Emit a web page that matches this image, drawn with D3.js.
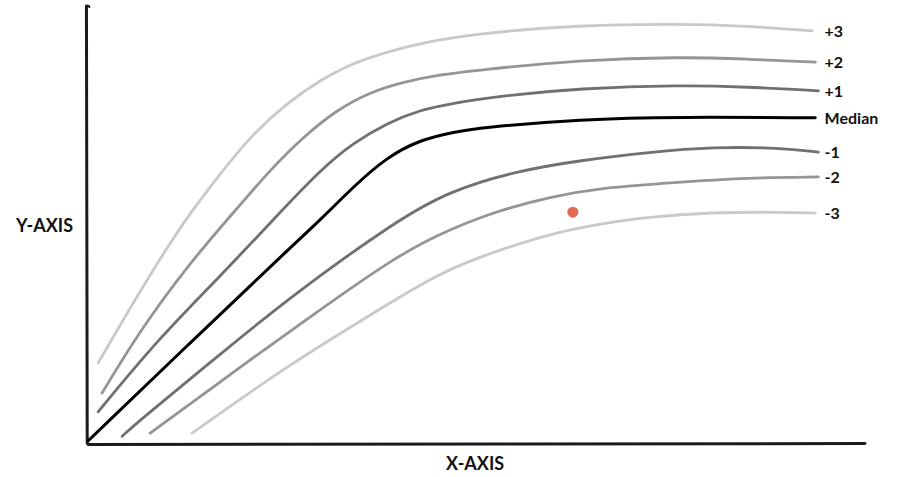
<!DOCTYPE html>
<html>
<head>
<meta charset="utf-8">
<script src="https://cdn.jsdelivr.net/npm/d3@7"></script>
<style>
  html, body { margin: 0; padding: 0; background: #fff; }
  svg { display: block; }
  text { font-family: Lato, "Open Sans", sans-serif; font-weight: 700; fill: #111; }
</style>
</head>
<body>
<svg id="chart" width="901" height="477"></svg>
<script>
// ---- data (x: 0..100 of x-axis, y: 0..100 of y-axis) ----
const seriesNames = ["+3", "+2", "+1", "Median", "-1", "-2", "-3"];
const seriesColors = ["#c9c9c9", "#959595", "#707070", "#000000", "#707070", "#959595", "#c9c9c9"];

const plus3 = [[1.3,17.9],[4.5,27.8],[8.9,40.9],[13.1,52.4],[17.0,61.4],[21.2,70.6],[25.6,77.7],[29.9,83.0],[34.1,86.9],[38.5,89.4],[42.7,91.5],[50.5,93.8],[63.3,95.6],[76.2,95.9],[84.8,95.4],[93.2,94.3]];
const plus2 = [[1.8,11.0],[6.7,25.5],[13.1,40.9],[17.9,50.8],[23.4,62.3],[27.7,69.9],[32.0,76.1],[36.3,80.2],[40.5,82.5],[44.9,84.1],[50.4,85.3],[63.3,87.6],[76.2,88.3],[84.8,87.8],[93.6,87.1]];
const plus1 = [[1.3,6.7],[8.9,23.2],[17.4,38.6],[23.8,50.8],[29.9,62.3],[34.1,68.5],[38.5,73.1],[42.7,76.1],[47.0,77.7],[53.0,79.3],[63.3,81.1],[76.2,81.8],[84.8,81.4],[94.0,80.5]];
const median = [[0,0],[13.1,22.5],[26.0,44.4],[29.9,50.8],[34.1,58.4],[38.5,65.3],[42.7,69.2],[47.0,71.0],[50.5,72.0],[63.3,74.0],[76.2,74.5],[93.6,74.3]];
const minus1 = [[4.4,1.1],[6.7,4.8],[17.4,20.5],[26.0,33.1],[39.8,50.8],[46.6,57.5],[55.2,62.1],[63.7,64.6],[72.3,66.4],[80.4,67.6],[89.1,67.4],[94.0,66.4]];
const minus2 = [[8.0,1.8],[19.6,17.0],[27.3,26.9],[40.2,43.2],[46.6,48.7],[53.0,53.1],[59.5,56.1],[65.9,58.2],[76.2,59.5],[84.8,60.5],[94.0,60.7]];
const minus3 = [[13.4,1.8],[26.0,17.7],[35.9,28.5],[44.4,37.7],[49.2,41.6],[59.5,47.8],[65.9,49.9],[71.9,51.5],[80.4,52.6],[89.1,52.6],[93.6,52.4]];
const seriesValues = [plus3, plus2, plus1, median, minus1, minus2, minus3];

const highlightPoint = [62.4, 52.6];
const xAxisLabel = "X-AXIS";
const yAxisLabel = "Y-AXIS";

// ---- drawing ----
const svg = d3.select("#chart");
const x = d3.scaleLinear().domain([0, 100]).range([88, 865]);
const y = d3.scaleLinear().domain([0, 100]).range([441, 6]);

const line = d3.line().x(d => x(d[0])).y(d => y(d[1])).curve(d3.curveBasis);

// axes (hand-drawn look)
const axisG = svg.append("g").attr("fill", "none").attr("stroke", "#1b1b1b").attr("stroke-linecap", "round");
axisG.append("line")
  .attr("x1", x(-0.2)).attr("y1", y(100))
  .attr("x2", x(-0.1)).attr("y2", y(-0.5))
  .attr("stroke-width", 3);
axisG.append("path")
  .attr("d", `M${x(-0.2)},${y(100)} q2,-1 3,1`)
  .attr("stroke-width", 2);
axisG.append("line")
  .attr("x1", x(0)).attr("y1", y(-0.8))
  .attr("x2", x(100)).attr("y2", y(-0.6))
  .attr("stroke-width", 3);

// curves
const g = svg.append("g");
seriesValues.forEach((vals, i) => {
  g.append("path")
    .datum(vals)
    .attr("d", line)
    .attr("fill", "none")
    .attr("stroke", seriesColors[i])
    .attr("stroke-width", i === 3 ? 3 : 2.8)
    .attr("stroke-linecap", "round");
  const last = vals[vals.length - 1];
  g.append("text")
    .attr("x", x(94.8))
    .attr("y", y(last[1]))
    .attr("dy", "0.36em")
    .attr("font-size", 16)
    .text(seriesNames[i]);
});

// highlight point
svg.append("circle")
  .attr("cx", x(highlightPoint[0]))
  .attr("cy", y(highlightPoint[1]))
  .attr("r", 5.5)
  .attr("fill", "#e36a52");

// axis labels
svg.append("text")
  .attr("x", 16).attr("y", y(49.5))
  .attr("dy", "0.35em")
  .attr("font-size", 18)
  .text(yAxisLabel);
svg.append("text")
  .attr("x", 446).attr("y", 464)
  .attr("dy", "0.35em")
  .attr("font-size", 18)
  .text(xAxisLabel);
</script>
</body>
</html>
